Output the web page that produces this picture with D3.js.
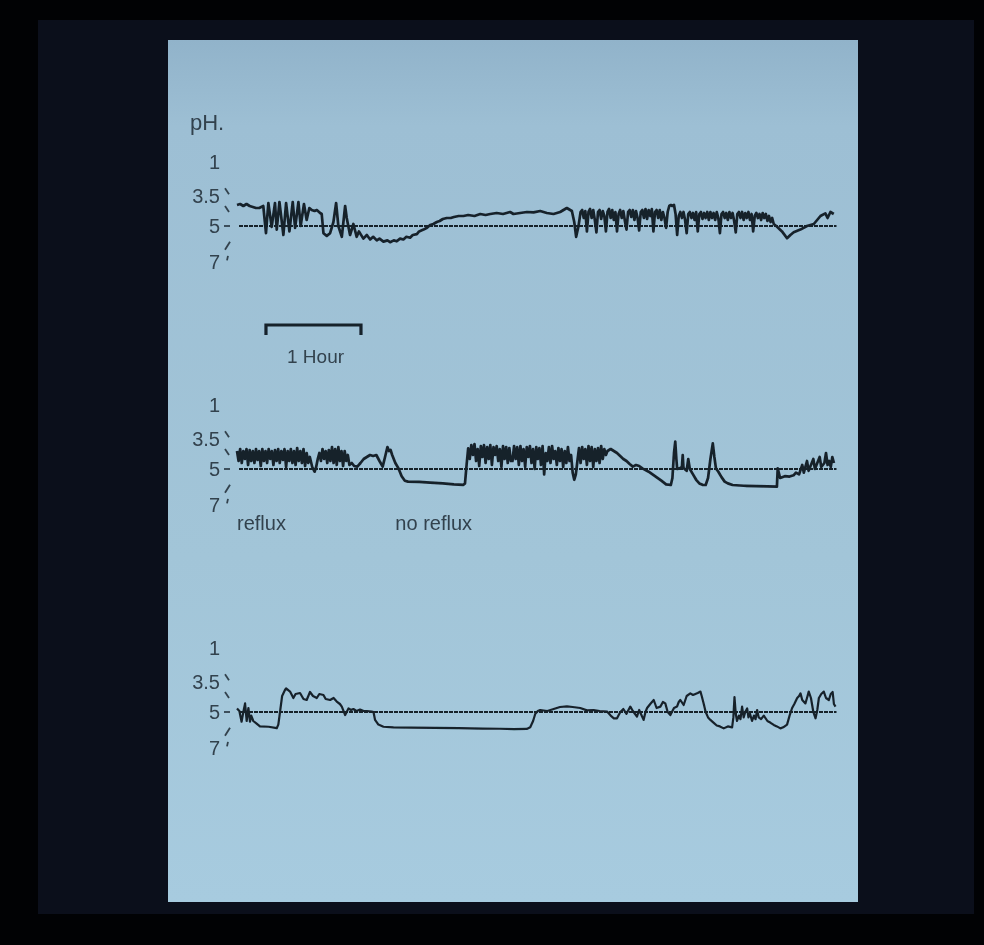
<!DOCTYPE html>
<html>
<head>
<meta charset="utf-8">
<script src="https://cdn.jsdelivr.net/npm/d3@7.9.0/dist/d3.min.js"></script>
<style>
  html, body { margin: 0; padding: 0; background: #000; }
  svg { display: block; }
</style>
</head>
<body>
<svg id="chart" width="984" height="945"></svg>
<script>
// axis labels (pH) and the little slanted marks beside them
const phTicks = [1, 3.5, 5, 7];
const tickLabels = ["1", "3.5", "5", "7"];
const markPh = [3.15, 4.15, 5, 6.1, 6.8];
const markKind = ["\\", "\\", "-", "/", "'"];

// traces: [minutes, pH]
const trace1 = [
  [0,3.95],[2,3.9],[4,4.0],[6,3.9],[8,4.0],[10,4.05],[12,4.1],[14,4.1],[16.6,4.0],[18.3,5.4],
  [19.8,3.85],[21.9,5.05],[24,3.85],[25.1,5.2],[26.8,3.8],[29.3,5.5],[31,3.85],[33.1,5.3],[35.2,3.8],[36.7,5.1],
  [38.8,3.8],[40.2,5.0],[42.3,3.9],[44,4.7],[45.7,4.1],[47.2,4.2],[49,4.25],[50.4,4.2],[52.5,4.35],[53.5,4.4],
  [54.6,5.4],[56.7,5.55],[58.8,5.4],[60.9,4.8],[62.6,3.85],[64,5.0],[66.2,5.6],[68.3,4.0],[69.3,4.6],[71.4,5.5],
  [73.5,4.9],[75.6,5.6],[77,5.3],[79.8,5.7],[82,5.5],[84.1,5.75],[86,5.6],[88.3,5.8],[90,5.7],[92.5,5.87],
  [95,5.8],[96.7,5.9],[99,5.8],[100.9,5.85],[103,5.7],[105.1,5.75],[107,5.6],[109.3,5.65],[111,5.5],[113.6,5.45],
  [115,5.3],[117.8,5.2],[120,5.1],[122,4.95],[124,4.9],[126.2,4.8],[128,4.75],[130,4.65],[132.5,4.6],[135,4.6],
  [137,4.55],[140,4.5],[143,4.5],[146,4.45],[150,4.5],[153.6,4.4],[157,4.45],[160,4.4],[164,4.35],[168,4.4],
  [172.5,4.3],[174.6,4.4],[178.8,4.35],[183.1,4.3],[187.3,4.32],[191.5,4.25],[195.7,4.35],[199.9,4.4],[204.1,4.3],[208.3,4.1],
  [211.5,4.25],[213,4.8],[214.2,5.6],[215.7,5.0],[217,4.3],
  [218,4.2],[219,4.6],[220,4.25],[221,5.3],[222,4.3],[223,4.15],[224,4.6],[225,4.2],[226,4.7],[227,5.35],
  [228,4.3],[229,4.2],[230,4.65],[231,4.25],[232,4.5],[233,5.3],[234,4.3],[235,4.15],[236,4.6],[237,4.2],
  [238,4.7],[239,4.3],[240,5.3],[241,4.4],[242,4.2],[243,4.6],[244,4.25],[245,4.75],[246,5.2],[247,4.3],
  [248,4.2],[249,4.55],[250,4.2],[251,4.7],[252,4.25],[253,4.6],[254,5.25],[255,4.3],[256,4.2],[257,4.6],
  [258,4.15],[259,4.65],[260,4.2],[261,4.5],[262,4.15],[263,5.3],[264,4.3],[265,4.2],[266,4.6],[267,4.2],
  [268,4.7],[269,4.3],[270,4.6],[271,5.1],[272,4.3],[273,4.0],[274,3.95],[275,4.0],[276,3.95],[277,4.4],
  [278,5.5],[279,4.5],[280,4.3],[281,4.6],[282,4.3],[283,4.7],[284,5.4],[285,4.4],[286,4.3],[287,4.6],
  [288,4.35],[289,4.7],[290,4.3],[291,5.3],[292,4.4],[293,4.3],[294,4.65],[295,4.35],[296,4.6],[297,4.3],
  [298,4.7],[299,4.3],[300,4.6],[301,4.35],[302,4.7],[303,4.3],[304,4.6],[305,5.4],[306,4.4],[307,4.3],
  [308,4.6],[309,4.35],[310,4.7],[311,4.3],[312,4.6],[313,4.35],[314,4.75],[315,5.35],[316,4.4],[317,4.3],
  [318,4.6],[319,4.3],[320,4.7],[321,4.35],[322,4.6],[323,4.3],[324,4.7],[325,4.4],[326,5.3],[327,4.5],
  [328,4.35],[329,4.6],[330,4.4],[331,4.7],[332,4.35],[333,4.6],[334,4.4],[335,4.75],[336,4.5],[337,4.8],
  [338,4.6],[339,4.9],[341.1,5.04],[344.2,5.3],[347.4,5.68],[349.5,5.5],[351.6,5.35],[355.8,5.2],[360,5.0],[364.3,4.9],
  [368.5,4.5],[371.6,4.37],[373,4.6],[374.8,4.3],[376.9,4.4]
];

const trace2 = [
  [0,4.1],[1,4.6],[2,4.0],[3,4.7],[4,4.1],[5,4.5],[6,4.0],[7,4.8],[8,4.05],[9,4.6],
  [10,4.1],[11,4.7],[12,4.0],[13,4.55],[14,4.1],[15,4.85],[16,4.0],[17,4.6],[18,4.1],[19,4.7],
  [20,4.0],[21,4.5],[22,4.1],[23,4.8],[24,4.05],[25,4.6],[26,4.0],[27,4.7],[28,4.1],[29,4.55],
  [30,4.0],[31,4.9],[32,4.1],[33,4.6],[34,4.0],[35,4.7],[36,4.1],[37,4.8],[38,3.95],[39,4.6],
  [40,4.1],[41,4.7],[42,4.0],[43,4.85],[44,4.2],[45,4.7],[46,4.4],[47.5,4.9],[49,5.15],[50,4.9],
  [51,4.5],[52,4.2],[53,4.6],[54,4.0],[55,4.5],[56,4.1],[57,4.7],[58,4.05],[59,4.6],[60,3.9],
  [61,4.7],[62,4.0],[63,4.8],[64,3.9],[65,4.6],[66,4.1],[67,4.85],[68,4.1],[69,4.6],[70,4.3],
  [71,4.8],[72.5,4.7],[74,4.85],[76,4.88],[78,4.7],[80,4.5],[82,4.4],[84,4.3],[86,4.35],[88,4.3],
  [90,4.6],[92,4.88],[93.5,4.4],[95,3.9],[96,4.1],[97,4.05],[98,4.3],[100,4.7],[102,4.97],[104,5.4],
  [106,5.65],[108,5.7],[115,5.72],[122,5.76],[130,5.8],[137,5.85],[143,5.88],[144,5.8],[145,4.8],[146,3.97],
  [147,4.5],[148,3.8],[149,4.3],[150,3.75],[151,4.6],[152,4.0],[153,4.85],[154,3.85],[155,4.4],[156,3.8],
  [157,4.7],[158,3.9],[159,4.5],[160,3.8],[161,4.8],[162,3.9],[163,4.3],[164,3.85],[165,4.6],[166,4.0],
  [167,4.9],[168,3.85],[169,4.5],[170,3.9],[171,4.7],[172,3.95],[173,4.6],[174,4.6],[175,3.85],[176,4.5],
  [177,3.9],[178,4.8],[179,3.85],[180,4.6],[181,4.0],[182,4.9],[183,3.9],[184,4.4],[185,3.85],[186,4.7],
  [187,4.0],[188,5.0],[189,3.9],[190,4.5],[191,3.95],[192,4.8],[193,3.85],[194,5.3],[195,4.2],[196,4.6],
  [197,3.9],[198,4.7],[199,3.85],[200,4.5],[201,4.1],[202,4.8],[203,3.95],[204,4.6],[205,4.0],[206,4.9],
  [207,4.1],[208,4.7],[209,3.9],[210,4.6],[211,4.3],[212,5.2],[213,5.6],[214,5.3],[215,4.6],[216,3.95],
  [217,4.7],[218,3.9],[219,4.5],[220,4.0],[221,4.8],[222,3.85],[223,4.6],[224,3.9],[225,4.9],[226,4.0],
  [227,4.6],[228,3.95],[229,4.7],[230,3.85],[231,4.5],[232,4.0],[233,4.3],[234,4.1],[236,4.0],[238,4.1],
  [240,4.2],[242,4.35],[244,4.5],[246,4.6],[248,4.75],[250,4.88],[252,4.8],[254,4.85],[256,4.97],[260,5.15],
  [264,5.4],[268,5.65],[271,5.85],[274,5.89],[275,5.5],[276,4.2],[276.8,3.63],[277.5,4.5],[278,5.0],[279.5,4.97],
  [281,4.9],[281.5,4.3],[282,4.95],[284,5.1],[285,4.5],[286,5.0],[288,5.3],[290,5.6],[292,5.8],[294,5.88],
  [296,5.89],[297.5,5.5],[299,4.5],[300.5,3.72],[301.5,4.4],[302.5,4.97],[304,5.15],[306,5.45],[308,5.7],[310,5.8],
  [313,5.89],[320,5.93],[328,5.95],[335,5.96],[341,5.98],[341.5,4.97],[343,5.5],[346,5.4],[349,5.42],[351.5,5.35],
  [353,5.2],[355,5.3],[357,4.8],[358,5.2],[360,4.6],[361,5.1],[362,4.9],[364,4.5],[365,5.0],[367,4.6],
  [368,4.4],[369,4.9],[371,4.7],[372,4.2],[373,4.8],[374,4.6],[375,4.9],[376,4.4],[377,4.7]
];

const trace3 = [
  [0,4.82],[1.5,4.95],[2.9,5.54],[4,5.0],[5.1,4.57],[6.1,5.5],[7.2,4.8],[8.2,5.54],[9,5.2],[10.3,5.5],
  [12.4,5.65],[14.5,5.8],[20,5.82],[25.1,5.9],[26.1,5.7],[27.5,4.8],[28.5,4.2],[30.3,3.9],[31,3.82],[33.5,3.98],
  [35.6,4.3],[37,4.1],[39.8,4.05],[42,4.35],[44,4.4],[46.1,4.0],[48,4.2],[50.4,4.3],[52,4.1],[54.6,4.15],
  [56,4.35],[58.8,4.4],[61,4.3],[63,4.48],[65,4.6],[66.2,4.73],[68.3,5.17],[70.4,4.82],[72,4.9],[73.5,4.85],
  [75.5,4.95],[77.7,4.88],[80,4.95],[82,4.95],[85.1,4.98],[86.2,5.0],[87.2,5.44],[89.3,5.7],[92.5,5.82],[98.8,5.85],
  [110,5.87],[125,5.88],[140,5.9],[155,5.92],[166,5.93],[175,5.95],[183,5.94],[185.2,5.85],[187,5.5],[188.4,5.1],
  [190,4.95],[191.5,4.9],[196,4.95],[200,4.85],[204,4.75],[208.4,4.72],[212,4.75],[216.8,4.8],[221,4.92],[225.2,4.9],
  [229,4.95],[233.7,4.98],[236,5.2],[238,5.35],[240,5.35],[242.1,5.0],[244,4.85],[246,5.1],[248.4,4.73],[250,4.95],
  [252.6,5.26],[254,4.9],[256.8,5.44],[258,5.0],[259,4.8],[261,4.6],[263.2,4.4],[265,4.8],[267.4,4.73],[269,4.5],
  [270.5,4.57],[272,5.0],[273.7,5.17],[276,4.8],[277.9,4.73],[279,4.5],[280,4.4],[282.1,4.65],[284,4.2],[286.3,4.07],
  [288,4.15],[289.5,4.1],[291,4.05],[292.7,3.98],[293.5,4.2],[294.8,4.6],[296,5.0],[297.5,5.3],[299,5.44],[301.1,5.6],
  [303,5.75],[305,5.8],[307.4,5.91],[310,5.8],[312.7,5.85],[313.5,5.3],[314.2,4.25],[315,5.1],[315.8,5.5],[317,5.2],
  [318,5.4],[319,4.73],[320,5.3],[321,5.0],[322.2,4.82],[323,5.3],[324,5.1],[325.3,5.5],[326.5,5.2],[327.5,5.4],
  [328.5,4.9],[329.5,5.3],[331,5.4],[332.7,5.2],[335,5.5],[337,5.6],[339,5.72],[341,5.8],[343.2,5.91],[345,5.85],
  [347.4,5.7],[349,5.2],[350.6,4.8],[352,4.6],[353.8,4.3],[355,4.2],[355.9,4.07],[357,4.4],[359,4.57],[360,4.3],
  [361.1,3.98],[362.5,4.3],[364,5.0],[365.4,5.35],[366.5,4.9],[367.5,4.3],[369,4.1],[370.6,3.98],[372,4.3],[373.8,4.4],
  [375,4.1],[376.2,4.0],[377,4.6],[378,4.73]
];

const traces = [trace1, trace2, trace3];
const notes = ["reflux", "no reflux"];
const noteMinutes = [0, 100];
const barStart = 18.3;   // minutes
const barLength = 60;    // one hour

const W = 984, H = 945;
const baselines = [226, 469, 712];
const ink = "#18212c";
const textInk = "#33424e";
const font = "'Liberation Sans', Arial, sans-serif";

const svg = d3.select("#chart");
const defs = svg.append("defs");

const grad = defs.append("linearGradient")
  .attr("id", "paper").attr("x1", 0).attr("y1", 0).attr("x2", 0).attr("y2", 1);
grad.append("stop").attr("offset", "0").attr("stop-color", "#91b3ca");
grad.append("stop").attr("offset", "0.1").attr("stop-color", "#9dbfd4");
grad.append("stop").attr("offset", "0.6").attr("stop-color", "#a2c5d8");
grad.append("stop").attr("offset", "1").attr("stop-color", "#a7cbdf");

defs.append("filter").attr("id", "soft")
  .append("feGaussianBlur").attr("stdDeviation", 0.5);

// slide frame
svg.append("rect").attr("width", W).attr("height", H).attr("fill", "#010204");
svg.append("rect").attr("x", 38).attr("y", 20).attr("width", 936).attr("height", 894).attr("fill", "#0b0f1b");
svg.append("rect").attr("x", 168).attr("y", 40).attr("width", 690).attr("height", 862).attr("fill", "url(#paper)");

const x = d3.scaleLinear().domain([0, 378]).range([237, 835.5]);
const y = d3.scaleLinear().domain([1, 3.5, 5, 7]).range([-64, -30, 0, 36]);

const line = d3.line().x(d => x(d[0])).y(d => y(d[1]));

const ink_g = svg.append("g").attr("filter", "url(#soft)");

ink_g.append("text")
  .attr("x", 190).attr("y", 130)
  .attr("font-family", font).attr("font-size", 22)
  .attr("fill", textInk).text("pH.");

const panels = ink_g.selectAll("g.panel")
  .data(traces)
  .join("g")
  .attr("class", "panel")
  .attr("transform", (d, i) => `translate(0,${baselines[i]})`);

// tick labels
panels.selectAll("text.tick")
  .data(phTicks)
  .join("text")
  .attr("class", "tick")
  .attr("x", 220)
  .attr("y", d => y(d))
  .attr("dy", "0.36em")
  .attr("text-anchor", "end")
  .attr("font-family", font).attr("font-size", 20)
  .attr("fill", textInk)
  .text((d, i) => tickLabels[i]);

// slanted marks
const markPath = {
  "\\": "M-2,-3L2,3",
  "-": "M-3,0L3,0",
  "/": "M3,-4L-2,4",
  "'": "M1,-2.5L0,2"
};
panels.selectAll("path.mark")
  .data(markPh)
  .join("path")
  .attr("class", "mark")
  .attr("transform", d => `translate(227,${y(d)})`)
  .attr("d", (d, i) => markPath[markKind[i]])
  .attr("stroke", textInk).attr("stroke-width", 1.8)
  .attr("fill", "none");

// pH 5 reference line
panels.append("line")
  .attr("x1", x(0) + 2).attr("x2", x(378) + 1)
  .attr("y1", y(5)).attr("y2", y(5))
  .attr("stroke", ink).attr("stroke-width", 1.8)
  .attr("stroke-dasharray", "4,1");

// traces
panels.append("path")
  .attr("d", d => line(d))
  .attr("fill", "none")
  .attr("stroke", ink)
  .attr("stroke-width", (d, i) => i === 2 ? 2.2 : 2.7)
  .attr("stroke-linejoin", "round");

// reflux notes under the middle trace
panels.filter((d, i) => i === 1).selectAll("text.note")
  .data(notes)
  .join("text")
  .attr("class", "note")
  .attr("x", (d, i) => x(noteMinutes[i]))
  .attr("y", 61)
  .attr("font-family", font).attr("font-size", 20)
  .attr("fill", textInk)
  .text(d => d);

// one hour scale bar
const bar = ink_g.append("g");
bar.append("path")
  .attr("d", `M${x(barStart)},335V325H${x(barStart + barLength)}V335`)
  .attr("fill", "none").attr("stroke", ink).attr("stroke-width", 3.2);
bar.append("text")
  .attr("x", 287).attr("y", 363)
  .attr("font-family", font).attr("font-size", 19)
  .attr("fill", textInk)
  .text("1 Hour");
</script>
</body>
</html>
